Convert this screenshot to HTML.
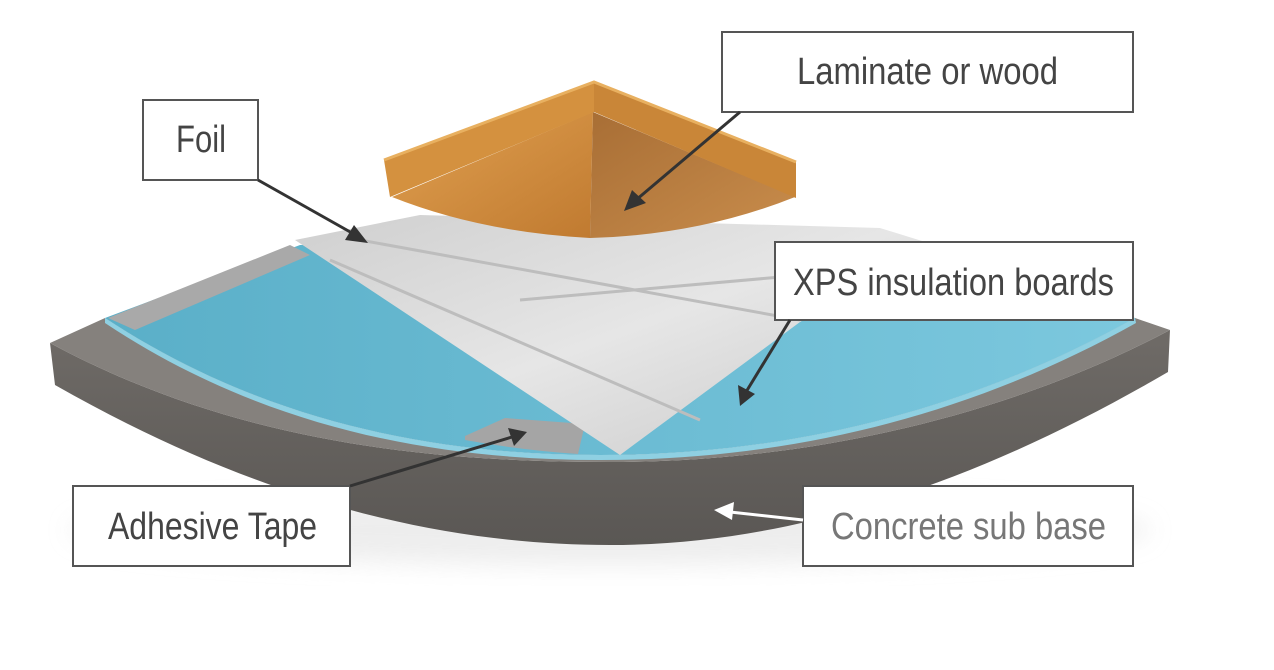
<!DOCTYPE html>
<html><head><style>
html,body{margin:0;padding:0;background:#fff;}
svg{display:block;}
text{font-family:"Liberation Sans",sans-serif;font-size:38px;}
</style></head><body>
<svg width="1274" height="670" viewBox="0 0 1274 670" xmlns="http://www.w3.org/2000/svg">
<defs>
<linearGradient id="conc" x1="0" y1="0" x2="0" y2="1">
<stop offset="0" stop-color="#6f6b67"/><stop offset="1" stop-color="#5a5754"/>
</linearGradient>
<linearGradient id="blue" x1="0" y1="0" x2="1" y2="0">
<stop offset="0" stop-color="#5aafc8"/><stop offset="1" stop-color="#7cc8de"/>
</linearGradient>
<linearGradient id="foil" x1="0" y1="0" x2="1" y2="1">
<stop offset="0" stop-color="#cfcfcf"/><stop offset="0.5" stop-color="#e6e6e6"/><stop offset="1" stop-color="#c8c8c8"/>
</linearGradient>
<linearGradient id="woodL" x1="0" y1="0" x2="1" y2="1">
<stop offset="0" stop-color="#e0a050"/><stop offset="1" stop-color="#c07a30"/>
</linearGradient>
<linearGradient id="woodR" x1="0" y1="0" x2="1" y2="1">
<stop offset="0" stop-color="#a86e35"/><stop offset="1" stop-color="#c98d4c"/>
</linearGradient>
<filter id="sh" x="-10%" y="-30%" width="120%" height="160%"><feGaussianBlur stdDeviation="12"/></filter>
</defs>
<ellipse cx="610" cy="530" rx="540" ry="35" fill="#e6e6e6" filter="url(#sh)" opacity="0.7"/>
<!-- concrete front face -->
<path d="M50 343 C230 440 420 462 610 462 C800 462 1000 420 1170 330 L1168 372 C1000 470 810 545 610 545 C420 545 240 490 55 385 Z" fill="url(#conc)"/>
<!-- concrete top -->
<path d="M50 343 L105 318 C260 420 430 455 600 455 C790 455 970 410 1135 318 L1170 330 C1000 420 800 462 610 462 C420 462 230 440 50 343 Z" fill="#85817d"/>
<!-- blue top -->
<path d="M105 318 L300 245 L880 230 L1135 318 C970 410 790 455 600 455 C430 455 260 420 105 318 Z" fill="url(#blue)"/>
<path d="M105 318 C260 420 430 455 600 455 C790 455 970 410 1135 318 L1136 323 C970 416 790 460 600 460 C430 460 260 426 105 323 Z" fill="#8fd0e2"/>
<!-- tape strips -->
<path d="M108 318 L135 330 L310 255 L290 245 Z" fill="#a9a9a9"/>
<path d="M465 436 L505 418 L585 424 L578 454 Q520 450 465 440 Z" fill="#a5a5a5"/>
<!-- foil -->
<path d="M295 240 L420 215 L880 228 L935 245 L800 322 L620 455 Z" fill="url(#foil)"/>
<path d="M330 260 L700 420 M360 240 L800 320 M520 300 L860 270" stroke="#bdbdbd" stroke-width="3" fill="none"/>
<!-- wood floor -->
<path d="M392 197 L593 112 L590 238 Q480 232 392 197 Z" fill="url(#woodL)"/>
<path d="M593 112 L795 197 Q700 235 590 238 Z" fill="url(#woodR)"/>
<path d="M384 160 L594 82 L594 112 L390 197 Z" fill="#d4913f"/>
<path d="M594 82 L796 162 L796 198 L594 112 Z" fill="#c98638"/>
<path d="M384 160 L594 82 L796 162" stroke="#e8b060" stroke-width="3" fill="none"/>
<!-- label boxes -->
<g fill="#fff" stroke="#555" stroke-width="2">
<rect x="143" y="100" width="115" height="80"/>
<rect x="722" y="32" width="411" height="80"/>
<rect x="775" y="242" width="358" height="78"/>
<rect x="73" y="486" width="277" height="80"/>
<rect x="803" y="486" width="330" height="80"/>
</g>
<g fill="#444">
<text x="176" y="152" textLength="50" lengthAdjust="spacingAndGlyphs">Foil</text>
<text x="797" y="84" textLength="261" lengthAdjust="spacingAndGlyphs">Laminate or wood</text>
<text x="793" y="295" textLength="321" lengthAdjust="spacingAndGlyphs">XPS insulation boards</text>
<text x="108" y="539" textLength="209" lengthAdjust="spacingAndGlyphs">Adhesive Tape</text>
<text x="831" y="539" textLength="275" lengthAdjust="spacingAndGlyphs" fill="#777">Concrete sub base</text>
</g>
<g stroke="#333" stroke-width="3" fill="#333">
<line x1="258" y1="180" x2="352" y2="233"/>
<polygon points="368,243 345,240 354,225" stroke="none"/>
<line x1="740" y1="112" x2="636" y2="200"/>
<polygon points="624,211 632,190 646,203" stroke="none"/>
<line x1="790" y1="320" x2="746" y2="392"/>
<polygon points="740,406 738,385 755,394" stroke="none"/>
<line x1="350" y1="486" x2="512" y2="437"/>
<polygon points="527,432 508,428 514,446" stroke="none"/>
</g>
<g stroke="#fff" stroke-width="3" fill="#fff">
<line x1="803" y1="520" x2="730" y2="512"/>
<polygon points="714,510 734,502 732,520" stroke="none"/>
</g>
</svg>
</body></html>
